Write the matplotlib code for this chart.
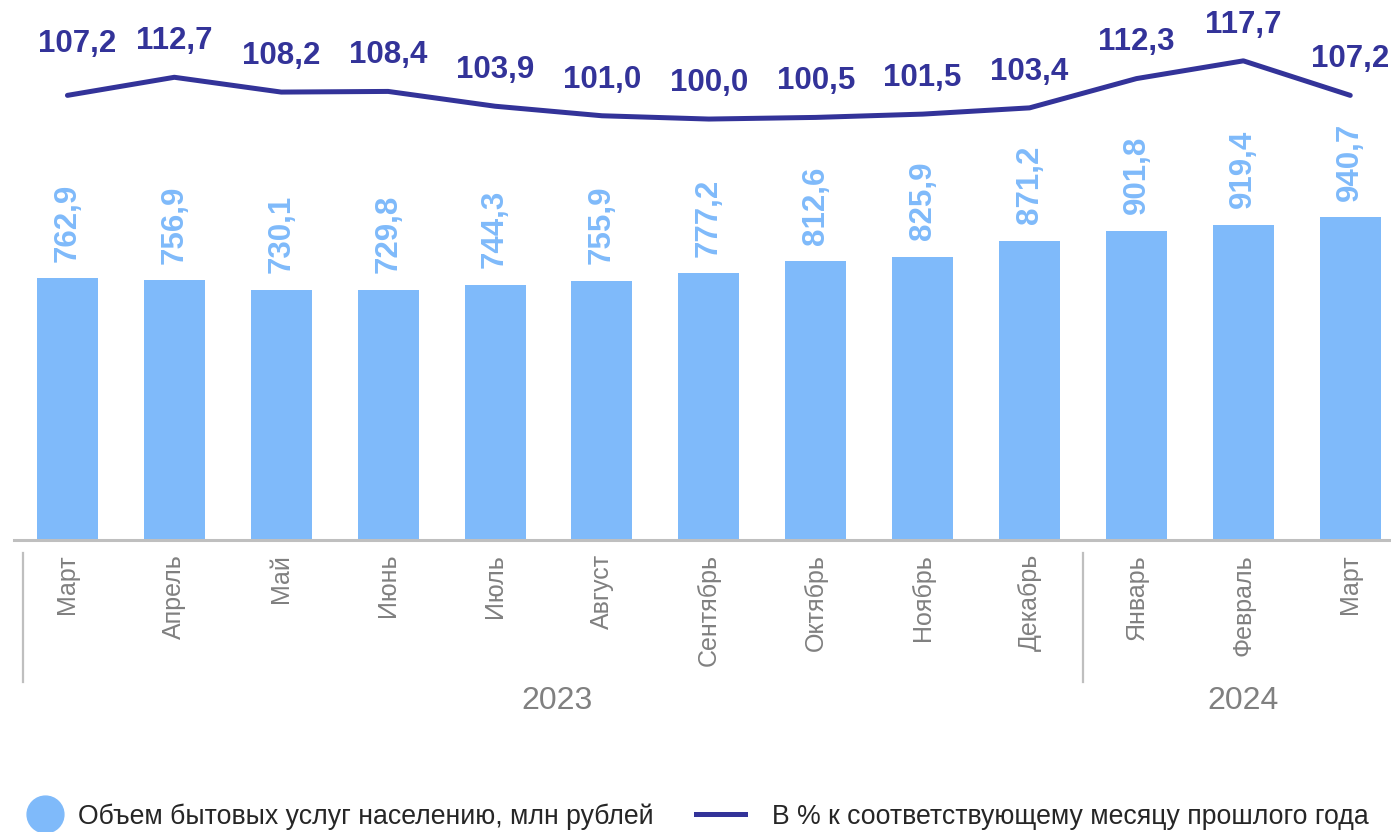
import matplotlib
matplotlib.use("Agg")
import matplotlib.pyplot as plt
from matplotlib.lines import Line2D
from matplotlib.transforms import blended_transform_factory

plt.rcParams['font.family'] = ['Liberation Sans', 'DejaVu Sans']

months = ["Март", "Апрель", "Май", "Июнь", "Июль", "Август", "Сентябрь",
          "Октябрь", "Ноябрь", "Декабрь", "Январь", "Февраль", "Март"]
volume = [762.9, 756.9, 730.1, 729.8, 744.3, 755.9, 777.2,
          812.6, 825.9, 871.2, 901.8, 919.4, 940.7]
pct = [107.2, 112.7, 108.2, 108.4, 103.9, 101.0, 100.0,
       100.5, 101.5, 103.4, 112.3, 117.7, 107.2]
years = ["2023", "2024"]
year_centers = [4.58, 11]
legend_labels = ["Объем бытовых услуг населению, млн рублей",
                 "В % к соответствующему месяцу прошлого года"]

BAR = '#7FBAFA'
NAVY = '#333399'
GRAY = '#808080'
SPINE = '#BFBFBF'
LEGTXT = '#262626'

W, H = 1391, 832
fig = plt.figure(figsize=(W / 100, H / 100), dpi=100)
ax = fig.add_axes([14 / W, (H - 540) / H, (W - 14) / W, 540 / H])

x = list(range(len(months)))
ax.bar(x, volume, width=0.57, color=BAR, zorder=2)
ax.set_xlim(-0.5, -0.5 + (W - 14) / 106.9)
ax.set_ylim(0, 1574)

for s in ['top', 'right', 'left']:
    ax.spines[s].set_visible(False)
ax.spines['bottom'].set_color(SPINE)
ax.spines['bottom'].set_linewidth(2.2)
ax.set_yticks([])
ax.set_xticks(x)
ax.set_xticklabels(months, rotation=90, fontsize=18, color=GRAY)
ax.tick_params(axis='x', length=0, pad=10)

fmt = lambda v: f"{v:.1f}".replace('.', ',')

for i, v in enumerate(volume):
    ax.annotate(fmt(v), (i, v), xytext=(0, 12), textcoords='offset points',
                rotation=90, ha='center', va='bottom', fontsize=22.5,
                fontweight='bold', color=BAR)

ax2 = ax.twinx()
ax2.plot(x, pct, color=NAVY, lw=3.6, solid_capstyle='round',
         solid_joinstyle='round', zorder=3)
ax2.set_ylim(-28.0, 136.2)
ax2.set_yticks([])
for s in ax2.spines.values():
    s.set_visible(False)

for i, v in enumerate(pct):
    off = (7, 37) if i == 0 else (0, 26)
    ax2.annotate(fmt(v), (i, v), xytext=off, textcoords='offset points',
                 ha='center', va='center', fontsize=22.5, fontweight='bold',
                 color=NAVY)

# year grouping
tr = blended_transform_factory(ax.transData, fig.transFigure)
for yr, c in zip(years, year_centers):
    fig.text(c, (H - 701) / H, yr, transform=tr, ha='center', va='center',
             fontsize=23, color=GRAY)
for xs in [-0.42, 9.5]:
    fig.add_artist(Line2D([xs, xs], [(H - 553) / H, (H - 682) / H],
                          transform=tr, color=SPINE, lw=1.6))

# legend
ly = (H - 814) / H
ty = (H - 817) / H
fig.add_artist(Line2D([44.5 / W], [ly], marker='o', markersize=26.5,
                      color=BAR, linestyle='none', transform=fig.transFigure))
fig.text(78 / W, ty, legend_labels[0], ha='left', va='center', fontsize=19.2,
         color=LEGTXT)
fig.add_artist(Line2D([696 / W, 745 / W], [ly, ly], color=NAVY, lw=3.6,
                      transform=fig.transFigure))
fig.text(772 / W, ty, legend_labels[1], ha='left', va='center', fontsize=19.2,
         color=LEGTXT)

fig.savefig('out.png', dpi=100)
